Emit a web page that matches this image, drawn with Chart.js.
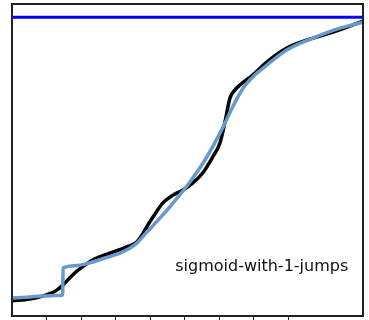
<!DOCTYPE html>
<html>
<head>
<meta charset="utf-8">
<script src="https://cdn.jsdelivr.net/npm/chart.js@4"></script>
<style>
  html, body { margin: 0; padding: 0; background: #fff; }
  canvas { display: block; }
</style>
</head>
<body>
<canvas id="chart" width="369" height="320"></canvas>
<script>
// fitted curve (smooth sigmoid with one jump)
const fitX = [0, 0.052, 0.089, 0.124, 0.147, 0.148, 0.182, 0.226, 0.269, 0.313, 0.356, 0.391, 0.429, 0.467,
  0.516, 0.565, 0.612, 0.640, 0.670, 0.704, 0.739, 0.797, 0.873, 0.951, 1.018];
const fitY = [0.013, 0.017, 0.020, 0.022, 0.024, 0.119, 0.127, 0.137, 0.154, 0.171, 0.200, 0.245, 0.294, 0.347,
  0.421, 0.509, 0.614, 0.685, 0.751, 0.797, 0.832, 0.885, 0.927, 0.962, 0.983];

// observed curve
const obsX = [0, 0.052, 0.089, 0.115, 0.130, 0.144, 0.162, 0.182, 0.203, 0.234, 0.284, 0.333, 0.362,
  0.379, 0.394, 0.409, 0.437, 0.467, 0.496, 0.524, 0.553, 0.582, 0.603, 0.617, 0.632, 0.646, 0.661, 0.698,
  0.739, 0.797, 0.873, 0.931, 1.018];
const obsY = [0.004, 0.010, 0.020, 0.031, 0.041, 0.055, 0.077, 0.101, 0.122, 0.147, 0.171, 0.193, 0.210,
  0.238, 0.270, 0.298, 0.347, 0.375, 0.393, 0.417, 0.453, 0.509, 0.558, 0.628, 0.716, 0.744, 0.762, 0.797,
  0.843, 0.892, 0.927, 0.948, 0.987];

// upper bound line
const limitX = [0, 1.018];
const limitY = [1, 1];

const xTicks = [0.1, 0.2, 0.3, 0.4, 0.5, 0.6, 0.7, 0.8];
const label = 'sigmoid-with-1-jumps';

function toPoints(xs, ys) {
  return xs.map((x, i) => ({ x: x, y: ys[i] }));
}

// draws the box, bottom tick marks and the label
const framePlugin = {
  id: 'frame',
  afterDatasetsDraw(chart) {
    const ctx = chart.ctx;
    const a = chart.chartArea;
    const xs = chart.scales.x;
    ctx.save();
    ctx.strokeStyle = '#222';
    ctx.lineWidth = 1;
    xTicks.forEach(t => {
      const px = Math.round(xs.getPixelForValue(t)) + 0.5;
      ctx.beginPath();
      ctx.moveTo(px, a.bottom);
      ctx.lineTo(px, a.bottom + 5);
      ctx.stroke();
    });
    ctx.lineWidth = 2;
    ctx.strokeRect(a.left, a.top, a.right - a.left, a.bottom - a.top);
    ctx.fillStyle = '#111';
    ctx.font = '16px "DejaVu Sans"';
    ctx.textAlign = 'right';
    ctx.textBaseline = 'alphabetic';
    ctx.fillText(label, a.left + (a.right - a.left) * 0.958, a.top + (a.bottom - a.top) * 0.856);
    ctx.restore();
  }
};

new Chart(document.getElementById('chart'), {
  type: 'line',
  data: {
    datasets: [
      {
        data: toPoints(fitX, fitY),
        borderColor: 'rgb(103,153,204)',
        borderWidth: 3.5,
        pointRadius: 0,
        cubicInterpolationMode: 'monotone',
        order: 1
      },
      {
        data: toPoints(obsX, obsY),
        borderColor: '#000',
        borderWidth: 3.5,
        pointRadius: 0,
        cubicInterpolationMode: 'monotone',
        order: 2
      },
      {
        data: toPoints(limitX, limitY),
        borderColor: '#0000ff',
        borderWidth: 3,
        pointRadius: 0,
        order: 0
      }
    ]
  },
  options: {
    responsive: false,
    animation: false,
    layout: { padding: { left: 12, top: 4, right: 6, bottom: 4 } },
    plugins: { legend: { display: false }, tooltip: { enabled: false } },
    scales: {
      x: { type: 'linear', min: 0, max: 1.018, display: false },
      y: { type: 'linear', min: -0.05, max: 1.047, display: false }
    }
  },
  plugins: [framePlugin]
});
</script>
</body>
</html>
